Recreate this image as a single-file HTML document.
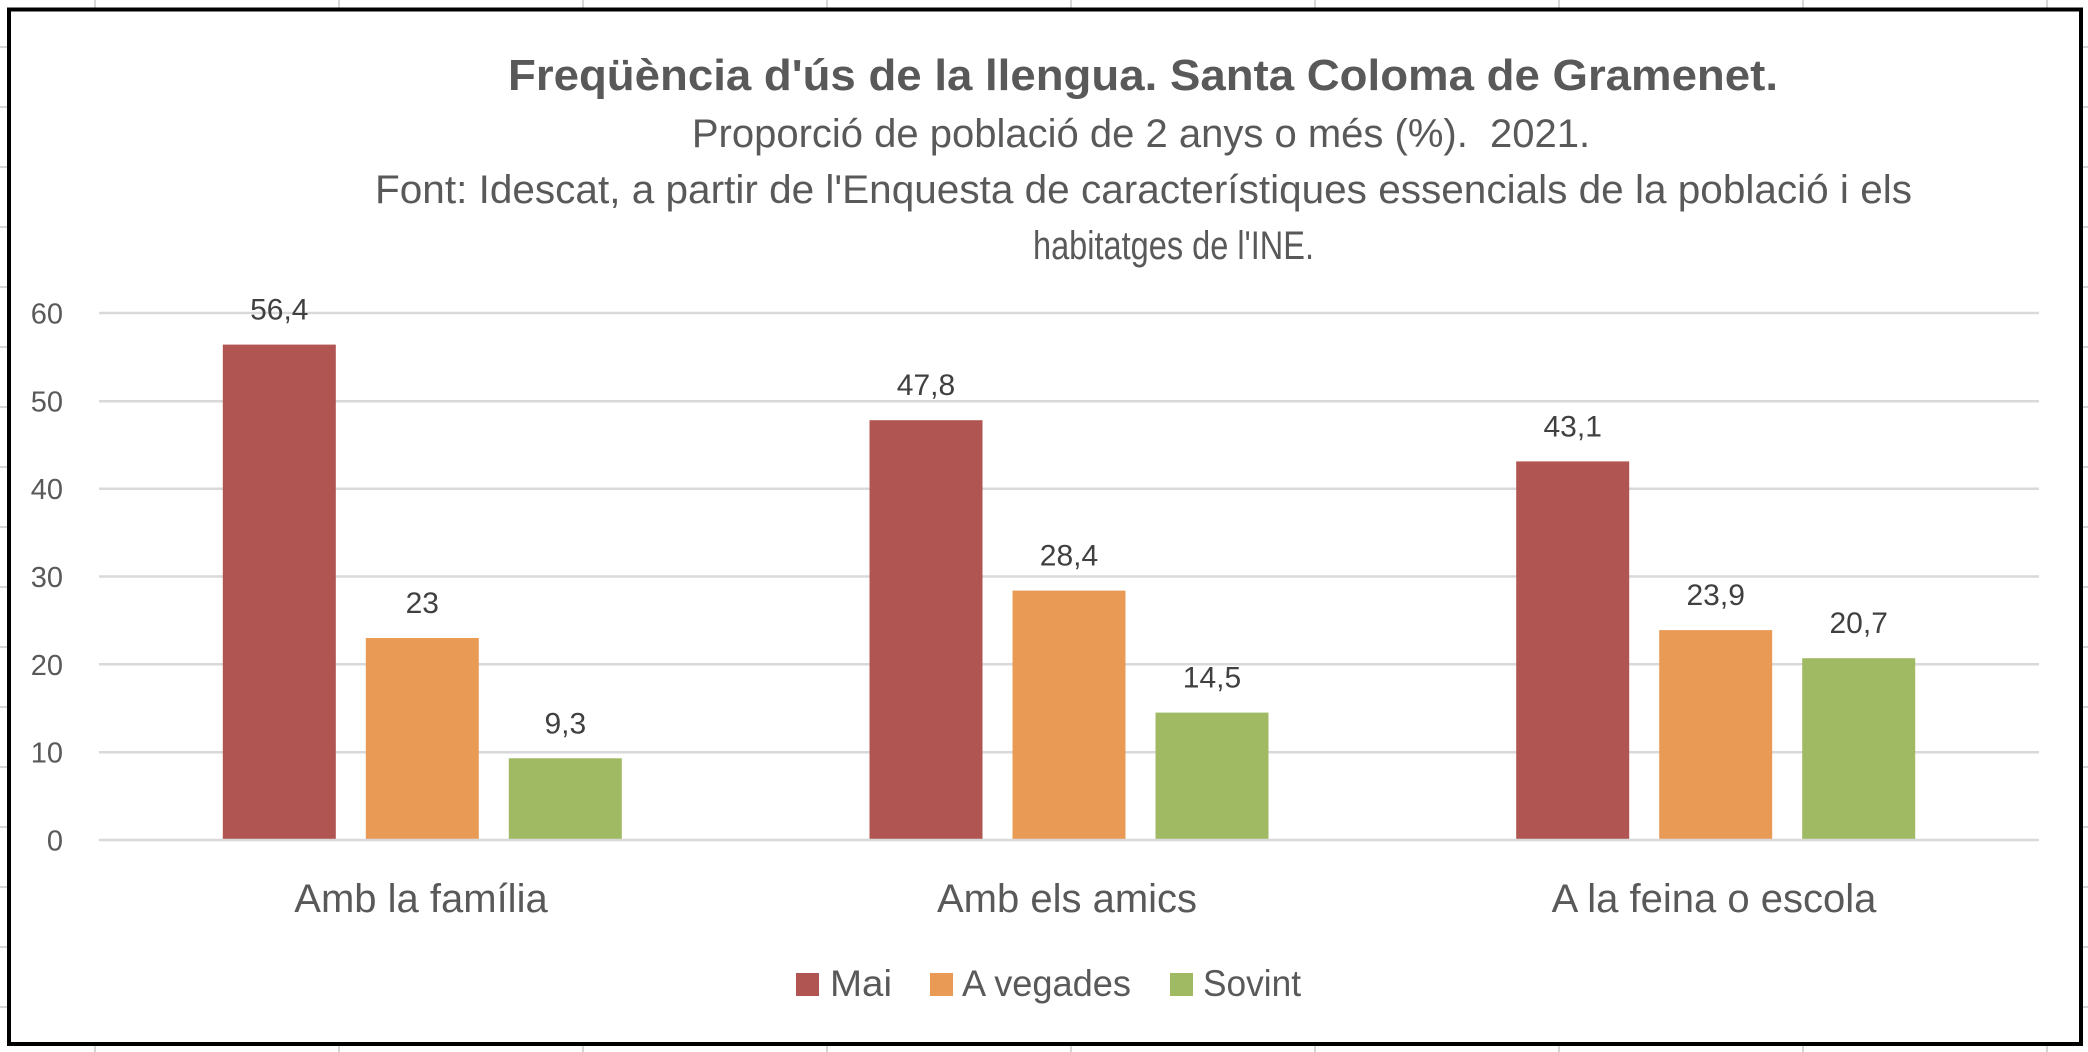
<!DOCTYPE html>
<html>
<head>
<meta charset="utf-8">
<style>
  html, body { margin:0; padding:0; background:#ffffff; }
  body { width:2088px; height:1052px; overflow:hidden; }
  svg { display:block; }
  text { font-family: "Liberation Sans", "DejaVu Sans", sans-serif; }
</style>
</head>
<body>
<svg width="2088" height="1052" viewBox="0 0 2088 1052" xmlns="http://www.w3.org/2000/svg">
  <!-- spreadsheet background grid -->
  <g stroke="#d6d6d6" stroke-width="2">
    <line x1="95" y1="0" x2="95" y2="1052"/>
    <line x1="339" y1="0" x2="339" y2="1052"/>
    <line x1="583" y1="0" x2="583" y2="1052"/>
    <line x1="827" y1="0" x2="827" y2="1052"/>
    <line x1="1071" y1="0" x2="1071" y2="1052"/>
    <line x1="1315" y1="0" x2="1315" y2="1052"/>
    <line x1="1559" y1="0" x2="1559" y2="1052"/>
    <line x1="1803" y1="0" x2="1803" y2="1052"/>
    <line x1="2047" y1="0" x2="2047" y2="1052"/>
    <line x1="0" y1="47" x2="2088" y2="47"/>
    <line x1="0" y1="107" x2="2088" y2="107"/>
    <line x1="0" y1="167" x2="2088" y2="167"/>
    <line x1="0" y1="227" x2="2088" y2="227"/>
    <line x1="0" y1="287" x2="2088" y2="287"/>
    <line x1="0" y1="347" x2="2088" y2="347"/>
    <line x1="0" y1="407" x2="2088" y2="407"/>
    <line x1="0" y1="467" x2="2088" y2="467"/>
    <line x1="0" y1="527" x2="2088" y2="527"/>
    <line x1="0" y1="587" x2="2088" y2="587"/>
    <line x1="0" y1="647" x2="2088" y2="647"/>
    <line x1="0" y1="707" x2="2088" y2="707"/>
    <line x1="0" y1="767" x2="2088" y2="767"/>
    <line x1="0" y1="827" x2="2088" y2="827"/>
    <line x1="0" y1="887" x2="2088" y2="887"/>
    <line x1="0" y1="947" x2="2088" y2="947"/>
    <line x1="0" y1="1007" x2="2088" y2="1007"/>
  </g>

  <!-- chart area -->
  <rect x="9" y="9.5" width="2072" height="1034.5" fill="#ffffff" stroke="#000000" stroke-width="4"/>

  <!-- titles -->
  <text x="508" y="90" font-size="44" font-weight="bold" fill="#595959" textLength="1270" lengthAdjust="spacingAndGlyphs">Freqüència d'ús de la llengua. Santa Coloma de Gramenet.</text>
  <text x="1141" y="147" font-size="40" fill="#595959" text-anchor="middle" xml:space="preserve">Proporció de població de 2 anys o més (%).  2021.</text>
  <text x="375" y="203" font-size="40" fill="#595959" textLength="1537" lengthAdjust="spacingAndGlyphs">Font: Idescat, a partir de l'Enquesta de característiques essencials de la població i els</text>
  <text x="1033" y="259" font-size="40" fill="#595959" textLength="281" lengthAdjust="spacingAndGlyphs">habitatges de l'INE.</text>

  <!-- gridlines -->
  <g stroke="#d9d9d9" stroke-width="2.5">
    <line x1="99" y1="313" x2="2039" y2="313"/>
    <line x1="99" y1="401.2" x2="2039" y2="401.2"/>
    <line x1="99" y1="488.7" x2="2039" y2="488.7"/>
    <line x1="99" y1="576.5" x2="2039" y2="576.5"/>
    <line x1="99" y1="664.3" x2="2039" y2="664.3"/>
    <line x1="99" y1="752.2" x2="2039" y2="752.2"/>
  </g>

  <!-- y tick labels -->
  <g font-size="29" fill="#595959" text-anchor="end">
    <text x="63" y="323.5">60</text>
    <text x="63" y="411.5">50</text>
    <text x="63" y="499">40</text>
    <text x="63" y="587">30</text>
    <text x="63" y="675">20</text>
    <text x="63" y="762.5">10</text>
    <text x="63" y="850.5">0</text>
  </g>

  <!-- bars: Mai -->
  <g fill="#B05552">
    <rect x="222.8" y="344.6" width="113" height="495.4"/>
    <rect x="869.5" y="420.2" width="113" height="419.8"/>
    <rect x="1516.2" y="461.4" width="113" height="378.6"/>
  </g>
  <!-- bars: A vegades -->
  <g fill="#E99B56">
    <rect x="365.8" y="638.0" width="113" height="202.0"/>
    <rect x="1012.5" y="590.6" width="113" height="249.4"/>
    <rect x="1659.2" y="630.1" width="113" height="209.9"/>
  </g>
  <!-- bars: Sovint -->
  <g fill="#A0BA64">
    <rect x="508.8" y="758.3" width="113" height="81.7"/>
    <rect x="1155.5" y="712.6" width="113" height="127.4"/>
    <rect x="1802.2" y="658.2" width="113" height="181.8"/>
  </g>

  <!-- zero axis -->
  <line x1="99" y1="840" x2="2039" y2="840" stroke="#d9d9d9" stroke-width="2.5"/>

  <!-- data labels -->
  <g font-size="30" fill="#404040" text-anchor="middle">
    <text x="279.3" y="319.6">56,4</text>
    <text x="422.3" y="613">23</text>
    <text x="565.3" y="733.3">9,3</text>
    <text x="926" y="395.2">47,8</text>
    <text x="1069" y="565.6">28,4</text>
    <text x="1212" y="687.6">14,5</text>
    <text x="1572.7" y="436.4">43,1</text>
    <text x="1715.7" y="605.1">23,9</text>
    <text x="1858.7" y="633.2">20,7</text>
  </g>

  <!-- category labels -->
  <g font-size="40" fill="#595959" text-anchor="middle">
    <text x="421" y="912">Amb la família</text>
    <text x="1067" y="912">Amb els amics</text>
    <text x="1714" y="912">A la feina o escola</text>
  </g>

  <!-- legend -->
  <rect x="796" y="973" width="23" height="23" fill="#B05552"/>
  <text x="830" y="996" font-size="37" fill="#595959" textLength="62" lengthAdjust="spacingAndGlyphs">Mai</text>
  <rect x="930" y="973" width="23" height="23" fill="#E99B56"/>
  <text x="962" y="996" font-size="37" fill="#595959" textLength="169" lengthAdjust="spacingAndGlyphs">A vegades</text>
  <rect x="1170" y="973" width="23" height="23" fill="#A0BA64"/>
  <text x="1203" y="996" font-size="37" fill="#595959" textLength="98" lengthAdjust="spacingAndGlyphs">Sovint</text>
</svg>
</body>
</html>
